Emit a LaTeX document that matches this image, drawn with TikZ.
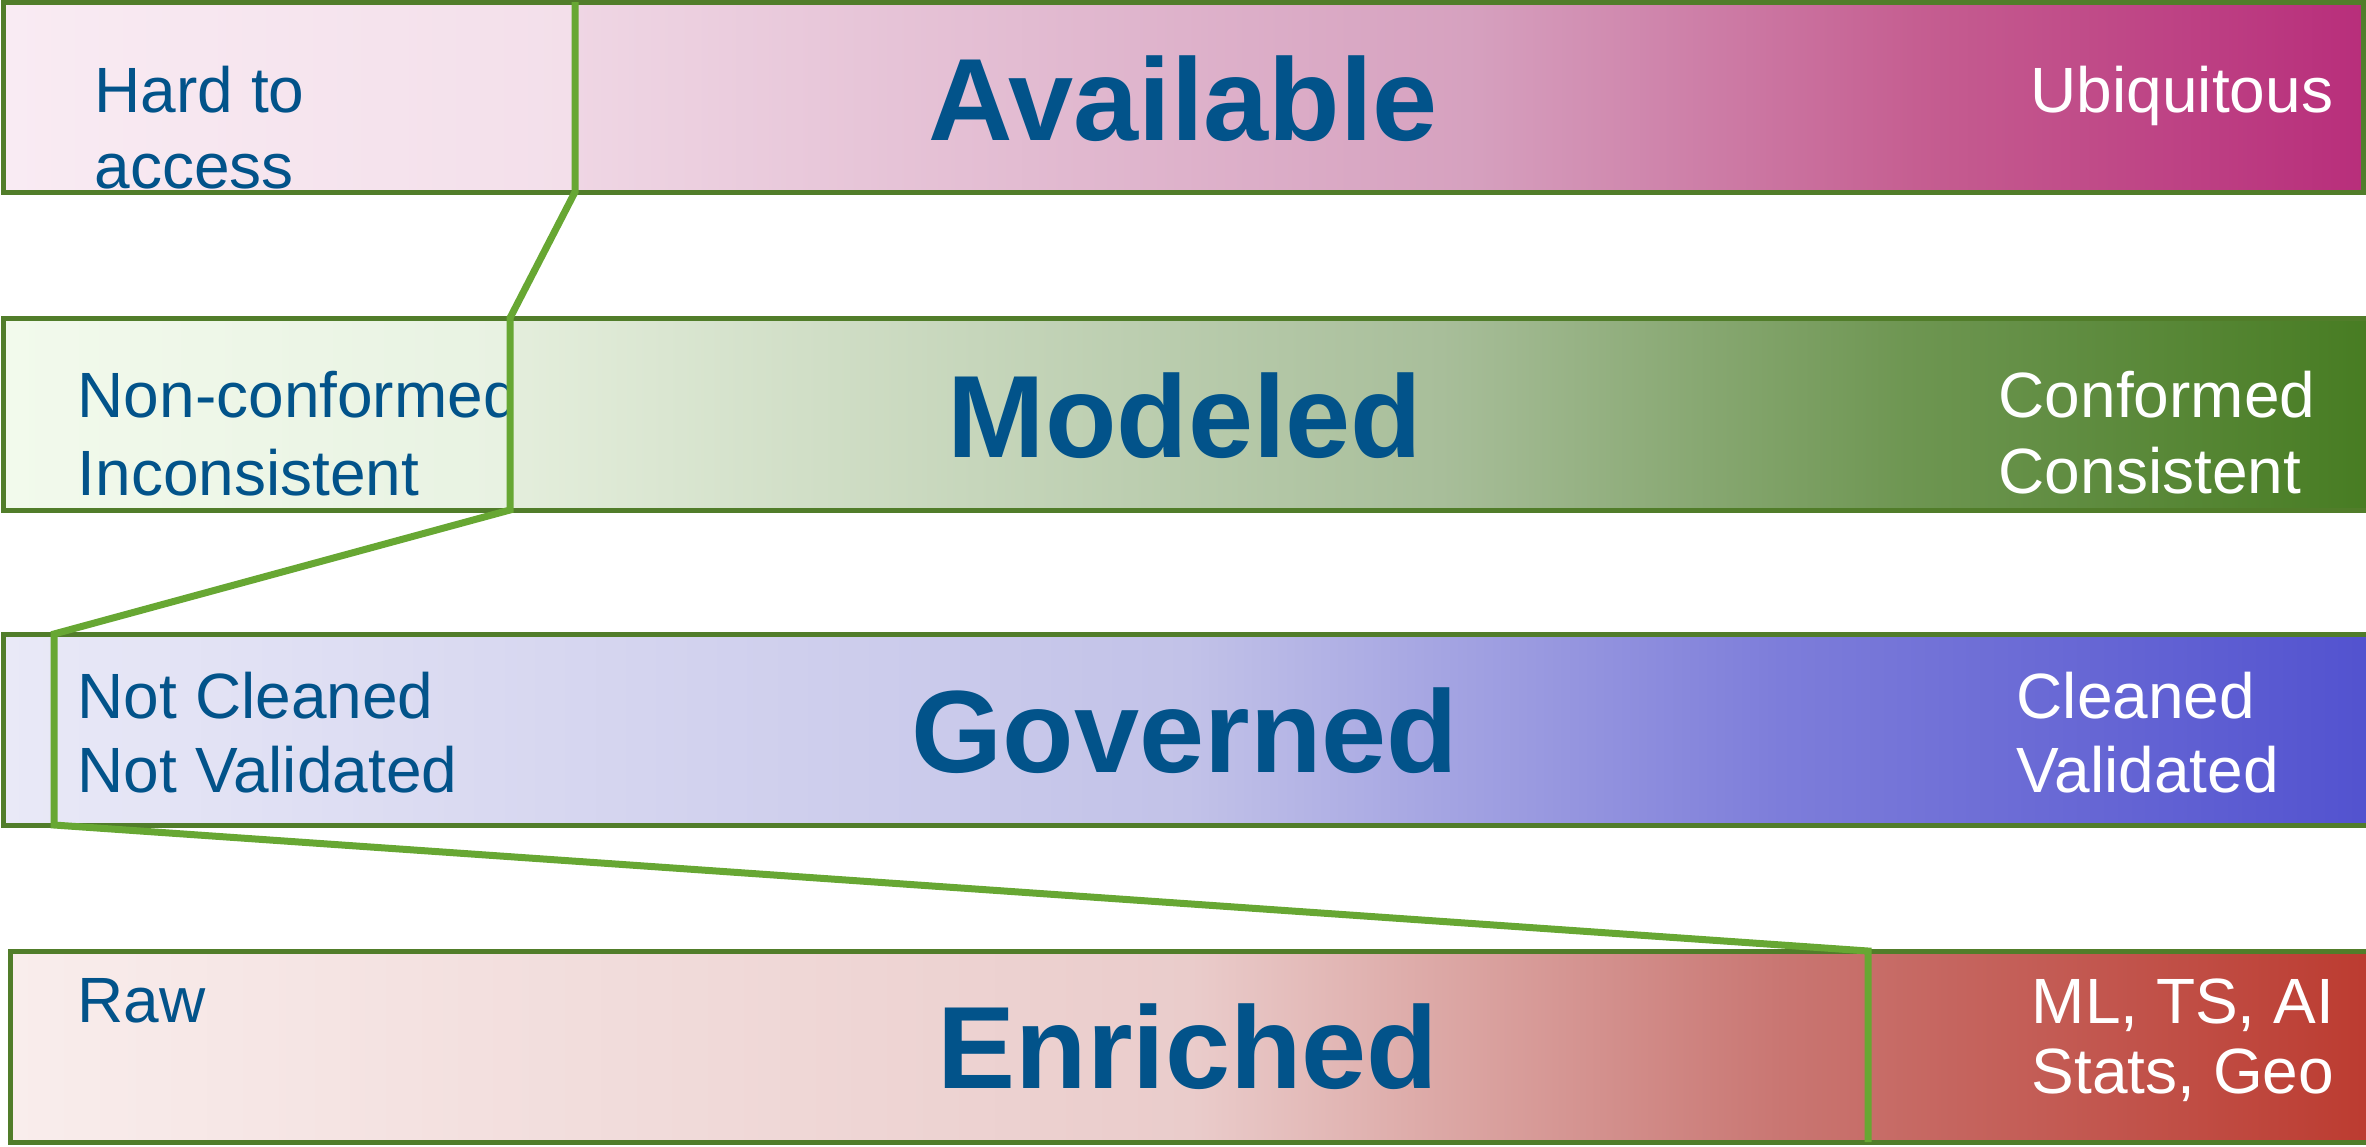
\documentclass[tikz,border=0pt]{standalone}
\usepackage{fontspec}
\setmainfont{Liberation Sans}

\definecolor{edgegreen}{HTML}{517D2A}
\definecolor{cutgreen}{HTML}{67A733}
\definecolor{txtblue}{HTML}{02538A}
% bar colours, light end to dark end
\definecolor{avA}{HTML}{F9EBF3}\definecolor{avB}{HTML}{F3DFEA}
\definecolor{avC}{HTML}{EFD6E4}\definecolor{avD}{HTML}{D6A1BF}
\definecolor{avE}{HTML}{C55E91}\definecolor{avF}{HTML}{B82E7B}
\definecolor{mdA}{HTML}{F2FAEC}\definecolor{mdB}{HTML}{E8F2E2}
\definecolor{mdC}{HTML}{E4EEDC}\definecolor{mdD}{HTML}{A8BE9A}
\definecolor{mdE}{HTML}{6E9652}\definecolor{mdF}{HTML}{477C22}
\definecolor{gvA}{HTML}{E9E9F7}\definecolor{gvB}{HTML}{C2C2E8}
\definecolor{gvC}{HTML}{7D7DDA}\definecolor{gvD}{HTML}{5252CF}
\definecolor{enA}{HTML}{F9EDEC}\definecolor{enB}{HTML}{EACCCB}
\definecolor{enC}{HTML}{C97672}\definecolor{enD}{HTML}{BC3B30}

\pgfdeclarehorizontalshading{availleft}{100bp}{color(0bp)=(avA); color(25bp)=(avA); color(75bp)=(avB); color(100bp)=(avB)}
\pgfdeclarehorizontalshading{availright}{100bp}{color(0bp)=(avC); color(25bp)=(avC); color(50bp)=(avD); color(62.5bp)=(avE); color(75bp)=(avF); color(100bp)=(avF)}
\pgfdeclarehorizontalshading{modelleft}{100bp}{color(0bp)=(mdA); color(25bp)=(mdA); color(75bp)=(mdB); color(100bp)=(mdB)}
\pgfdeclarehorizontalshading{modelright}{100bp}{color(0bp)=(mdC); color(25bp)=(mdC); color(50bp)=(mdD); color(62.5bp)=(mdE); color(75bp)=(mdF); color(100bp)=(mdF)}
\pgfdeclarehorizontalshading{governshade}{100bp}{color(0bp)=(gvA); color(25bp)=(gvA); color(50bp)=(gvB); color(62.5bp)=(gvC); color(75bp)=(gvD); color(100bp)=(gvD)}
\pgfdeclarehorizontalshading{enrichshade}{100bp}{color(0bp)=(enA); color(25bp)=(enA); color(50bp)=(enB); color(62.5bp)=(enC); color(75bp)=(enD); color(100bp)=(enD)}

\tikzset{every picture/.style={line width=0.75pt}}

\begin{document}
\begin{tikzpicture}[x=0.5pt,y=0.5pt,yscale=-1,xscale=1,
  barfill/.style={shade,draw=none},
  barline/.style={draw=edgegreen,line width=2.5pt},
  cutline/.style={draw=cutgreen,line width=3.5pt},
  lbl/.style={anchor=base west,inner sep=0pt,align=left,text=txtblue,font=\fontsize{32}{38}\selectfont},
  lblw/.style={lbl,text=white},
  title/.style={anchor=base,inner sep=0pt,text=txtblue,font=\fontsize{58.5}{70}\selectfont\bfseries}]
\useasboundingbox (0,0) rectangle (2366,1146);

% where each bar is cut
\coordinate (c1t) at (575,2);
\coordinate (c1b) at (575,192);
\coordinate (c2t) at (510,318);
\coordinate (c2b) at (510,510);
\coordinate (c3t) at (54,634);
\coordinate (c3b) at (54,825);
\coordinate (c4t) at (1868,951);
\coordinate (c4b) at (1868,1142);

%Shape: Rectangle -- Available
\path[barfill,shading=availleft] (3,2) rectangle (c1b);
\node[lbl] (hard) at (94,188) {Hard to\\access};
\path[barfill,shading=availright] (c1t) rectangle (2363,192);
\node[title] (avail) at (1183,140) {Available};
\node[lblw] (ubiq) at (2030,112) {Ubiquitous};
\draw[barline] (3,2) rectangle (2363,192);

%Shape: Rectangle -- Modeled
\path[barfill,shading=modelleft] (3,318) rectangle (c2b);
\node[lbl,font=\fontsize{32}{39}\selectfont] (noncon) at (77,495) {Non-conformed\\Inconsistent};
\path[barfill,shading=modelright] (c2t) rectangle (2372,510);
\node[title] (model) at (1185,457) {Modeled};
\node[lblw] (conf) at (1998,493) {Conformed\\Consistent};
\draw[barline] (3,318) rectangle (2372,510);

%Shape: Rectangle -- Governed
\path[barfill,shading=governshade] (3,634) rectangle (2372,825);
\node[lbl,font=\fontsize{32}{37}\selectfont] (notcl) at (77,792) {Not Cleaned\\Not Validated};
\node[title] (govern) at (1185,772) {Governed};
\node[lblw,font=\fontsize{32}{37}\selectfont] (clean) at (2016,792) {Cleaned\\Validated};
\draw[barline] (3,634) rectangle (2372,825);

%Shape: Rectangle -- Enriched
\path[barfill,shading=enrichshade] (10,951) rectangle (2372,1142);
\node[lbl] (raw) at (77,1022) {Raw};
\node[title] (enrich) at (1188,1088) {Enriched};
\node[lblw,font=\fontsize{32}{35}\selectfont] (mlts) at (2031,1093) {ML, TS, AI\\Stats, Geo};
\draw[barline] (10,951) rectangle (2372,1142);

%Straight Lines -- the cut running down through the bars
\draw[cutline] (c1t) -- (c1b) -- (c2t) -- (c2b) -- (c3t) -- (c3b) -- (c4t) -- (c4b);

\end{tikzpicture}
\end{document}
